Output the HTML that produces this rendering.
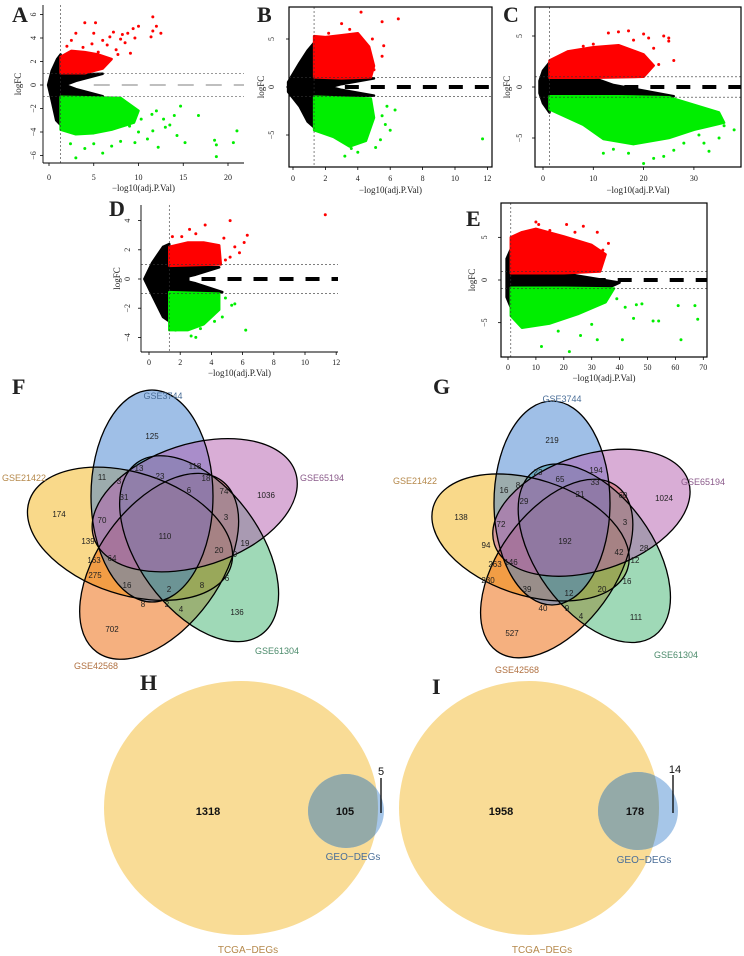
<!DOCTYPE html>
<html><head><meta charset="utf-8">
<style>
html,body{margin:0;padding:0;background:#fff;}
svg{display:block;}
.tk{font-family:"Liberation Serif",serif;font-size:8px;fill:#222;}
.lb{font-family:"Liberation Serif",serif;font-size:9px;fill:#222;}
.pl{font-family:"Liberation Serif",serif;font-size:22px;font-weight:bold;fill:#222;}
.vn{font-family:"Liberation Sans",sans-serif;font-size:8px;fill:#222;text-anchor:middle;dominant-baseline:middle;}
.vl{font-family:"Liberation Sans",sans-serif;font-size:9px;text-anchor:middle;}
.hn{font-family:"Liberation Sans",sans-serif;font-size:11px;font-weight:bold;fill:#111;text-anchor:middle;dominant-baseline:middle;}
</style></head>
<body>
<svg id="fig" width="744" height="956" viewBox="0 0 744 956" xmlns="http://www.w3.org/2000/svg">
<g id="volcanoes"></g>

<!-- Venn F -->
<g id="venn-f">
  <text class="pl" x="12" y="394">F</text>
  <g transform="translate(167,530)">
    <ellipse cx="-15" cy="-34" rx="61" ry="106" transform="rotate(288)" fill="#f3b315" fill-opacity="0.5" stroke="none"/>
    <ellipse cx="-15" cy="-34" rx="61" ry="106" transform="rotate(216)" fill="#eb6200" fill-opacity="0.5" stroke="none"/>
    <ellipse cx="-15" cy="-34" rx="61" ry="106" transform="rotate(144)" fill="#3fb36f" fill-opacity="0.5" stroke="none"/>
    <ellipse cx="-15" cy="-34" rx="61" ry="106" fill="#3f7fcf" fill-opacity="0.5" stroke="none"/>
    <ellipse cx="-15" cy="-34" rx="61" ry="106" transform="rotate(72)" fill="#b35cad" fill-opacity="0.5" stroke="none"/>
    <g fill="none" stroke="#000" stroke-width="1.3">
      <ellipse cx="-15" cy="-34" rx="61" ry="106"/>
      <ellipse cx="-15" cy="-34" rx="61" ry="106" transform="rotate(72)"/>
      <ellipse cx="-15" cy="-34" rx="61" ry="106" transform="rotate(144)"/>
      <ellipse cx="-15" cy="-34" rx="61" ry="106" transform="rotate(216)"/>
      <ellipse cx="-15" cy="-34" rx="61" ry="106" transform="rotate(288)"/>
    </g>
  </g>
  <g id="venn-f-nums"></g>
  <text class="vl" x="163" y="399" fill="#4a6e98">GSE3744</text>
  <text class="vl" x="24" y="481" fill="#b5884a">GSE21422</text>
  <text class="vl" x="322" y="481" fill="#8a5a8a">GSE65194</text>
  <text class="vl" x="277" y="654" fill="#4a8a6a">GSE61304</text>
  <text class="vl" x="96" y="669" fill="#b07040">GSE42568</text>
</g>

<!-- Venn G -->
<g id="venn-g">
  <text class="pl" x="433" y="394">G</text>
  <g transform="translate(565,535)">
    <ellipse cx="-13" cy="-32" rx="58" ry="102" transform="rotate(288)" fill="#f3b315" fill-opacity="0.5"/>
    <ellipse cx="-13" cy="-32" rx="58" ry="102" transform="rotate(216)" fill="#eb6200" fill-opacity="0.5"/>
    <ellipse cx="-13" cy="-32" rx="58" ry="102" transform="rotate(144)" fill="#3fb36f" fill-opacity="0.5"/>
    <ellipse cx="-13" cy="-32" rx="58" ry="102" fill="#3f7fcf" fill-opacity="0.5"/>
    <ellipse cx="-13" cy="-32" rx="58" ry="102" transform="rotate(72)" fill="#b35cad" fill-opacity="0.5"/>
    <g fill="none" stroke="#000" stroke-width="1.3">
      <ellipse cx="-13" cy="-32" rx="58" ry="102"/>
      <ellipse cx="-13" cy="-32" rx="58" ry="102" transform="rotate(72)"/>
      <ellipse cx="-13" cy="-32" rx="58" ry="102" transform="rotate(144)"/>
      <ellipse cx="-13" cy="-32" rx="58" ry="102" transform="rotate(216)"/>
      <ellipse cx="-13" cy="-32" rx="58" ry="102" transform="rotate(288)"/>
    </g>
  </g>
  <g id="venn-g-nums"></g>
  <text class="vl" x="562" y="402" fill="#4a6e98">GSE3744</text>
  <text class="vl" x="415" y="484" fill="#b5884a">GSE21422</text>
  <text class="vl" x="703" y="485" fill="#8a5a8a">GSE65194</text>
  <text class="vl" x="676" y="658" fill="#4a8a6a">GSE61304</text>
  <text class="vl" x="517" y="673" fill="#b07040">GSE42568</text>
</g>

<!-- H -->
<defs>
  <clipPath id="clipH"><ellipse cx="241" cy="808" rx="137" ry="127"/></clipPath>
  <clipPath id="clipI"><ellipse cx="529" cy="808" rx="130" ry="127"/></clipPath>
</defs>
<g id="venn-h">
  <text class="pl" x="140" y="690">H</text>
  <ellipse cx="241" cy="808" rx="137" ry="127" fill="#f9dc96"/>
  <ellipse cx="346" cy="811" rx="38" ry="37" fill="#a6c6e8"/>
  <ellipse cx="346" cy="811" rx="38" ry="37" fill="#94aaa8" clip-path="url(#clipH)"/>
  <text class="hn" x="208" y="812">1318</text>
  <text class="hn" x="345" y="812">105</text>
  <text class="hn" x="381" y="772" style="font-weight:normal">5</text>
  <line x1="381" y1="778" x2="381" y2="813" stroke="#000" stroke-width="1.3"/>
  <text class="vl" x="353" y="860" fill="#4a6e98" style="font-size:10px">GEO−DEGs</text>
  <text class="vl" x="248" y="953" fill="#b5884a" style="font-size:10px">TCGA−DEGs</text>
</g>
<g id="venn-i">
  <text class="pl" x="432" y="694">I</text>
  <ellipse cx="529" cy="808" rx="130" ry="127" fill="#f9dc96"/>
  <ellipse cx="638" cy="811" rx="40" ry="39" fill="#a6c6e8"/>
  <ellipse cx="638" cy="811" rx="40" ry="39" fill="#94aaa8" clip-path="url(#clipI)"/>
  <text class="hn" x="501" y="812">1958</text>
  <text class="hn" x="635" y="812">178</text>
  <text class="hn" x="675" y="770" style="font-weight:normal">14</text>
  <line x1="673" y1="775" x2="673" y2="813" stroke="#000" stroke-width="1.3"/>
  <text class="vl" x="644" y="863" fill="#4a6e98" style="font-size:10px">GEO−DEGs</text>
  <text class="vl" x="542" y="953" fill="#b5884a" style="font-size:10px">TCGA−DEGs</text>
</g>
</svg>

<script>
// ---------- Venn counts ----------
const fCounts=[[125,152,437],[13,139,469],[118,195,467],[23,160,477],[18,206,479],[3,119,482],[11,102,478],[31,124,498],[6,189,491],[74,224,492],[1036,266,496],[174,59,515],[70,102,521],[3,226,518],[110,165,537],[139,88,542],[20,219,551],[19,245,544],[9,235,555],[163,94,561],[64,112,559],[275,95,576],[16,127,586],[2,169,590],[8,202,586],[6,227,579],[8,143,605],[2,167,605],[4,181,610],[136,237,613],[702,112,630]];
const gCounts=[[219,552,441],[23,538,473],[194,596,471],[65,560,480],[33,595,483],[16,504,491],[8,518,486],[21,580,495],[60,623,496],[1024,664,499],[138,461,518],[29,524,502],[72,501,525],[3,625,523],[192,565,542],[94,486,546],[42,619,553],[28,644,549],[12,635,561],[263,495,565],[146,511,563],[230,488,581],[39,527,590],[12,569,594],[20,602,590],[16,627,582],[40,543,609],[9,567,609],[4,581,617],[111,636,618],[527,512,634]];
const NS='http://www.w3.org/2000/svg';
function mk(tag,attrs,parent){const e=document.createElementNS(NS,tag);for(const k in attrs)e.setAttribute(k,attrs[k]);parent.appendChild(e);return e;}
[['venn-f-nums',fCounts],['venn-g-nums',gCounts]].forEach(([id,arr])=>{
  const g=document.getElementById(id);
  arr.forEach(c=>{const t=mk('text',{class:'vn',x:c[1],y:c[2]},g);t.textContent=c[0];
    
    });
});

// ---------- Volcano data (data coordinates: -log10(adj.P), logFC) ----------
const aBlack=[[-0.1,0],[0.3,1.2],[0.9,2.2],[1.3,2.6],[1.3,1],[3.5,0.9],[6,0.95],[3,0.35],[1.8,0],[3,-0.35],[6,-0.95],[1.3,-1],[1.3,-3.4],[0.8,-3.0],[0.3,-1.3]];
const aRedCloud=[[1.3,1],[1.3,2.4],[2.5,2.9],[4,2.8],[5.5,2.6],[7,2.2],[6,1.4],[4,1.0]];
const aGreenCloud=[[1.3,-1],[1.3,-3.8],[3,-4.2],[5,-4.1],[7,-3.8],[9.5,-3.2],[10,-2.2],[8,-1.1]];
const aRedPts=[[11.6,5.8],[12,5.0],[11.6,4.6],[4.0,5.3],[5.2,5.3],[10.0,5.0],[9.4,4.8],[12.5,4.4],[11.4,4.1],[8.2,4.3],[7.2,4.5],[6.5,3.4],[9.1,2.7],[8.5,3.6],[9.6,4.0],[6.0,3.8],[7.5,3.0],[5.5,2.8],[4.8,3.5],[3.8,3.2],[3.0,4.4],[2.5,3.8],[8.0,3.9],[6.8,4.1],[5.0,4.4],[7.7,2.6],[8.8,4.4],[2.0,3.3]];
const aGreenPts=[[20.6,-4.9],[21,-3.9],[18.5,-4.7],[18.7,-5.1],[18.7,-6.1],[16.7,-2.6],[15.2,-4.9],[14.7,-1.8],[14,-2.6],[12.2,-5.3],[11.5,-2.5],[11.6,-3.9],[10.3,-2.9],[13,-3.6],[14.3,-4.3],[3,-6.2],[6,-5.8],[4,-5.4],[8,-4.8],[10,-4.0],[7.5,-1.1],[12,-2.2],[9,-3.5],[11,-4.6],[13.5,-3.4],[9.6,-4.9],[7,-5.2],[5,-5.0],[2.4,-5.0],[12.8,-2.9]];

const bBlack=[[-0.3,0.5],[0.4,2.5],[0.9,3.8],[1.3,4.6],[1.3,1],[5,0.9],[3,0.3],[2.3,0],[3,-0.3],[5,-0.9],[1.3,-1],[1.3,-4.2],[0.9,-3.6],[0.4,-2],[-0.3,-0.5]];
const bRedCloud=[[1.3,1],[1.3,5.3],[2,5.2],[3,5.4],[4,5.6],[4.7,4.2],[5,2.2],[4.8,1],[3,0.9]];
const bGreenCloud=[[1.3,-1],[1.3,-4.5],[2.5,-5.2],[3.5,-6.2],[4.5,-5.6],[5,-3.2],[4.8,-1.2]];
const bRedPts=[[4.2,7.8],[6.5,7.1],[5.5,6.8],[3.0,6.6],[5.0,1.8],[5.6,4.3],[5.5,3.2],[2.2,5.6],[3.5,6.0],[4.9,5.0]];
const bGreenPts=[[11.7,-5.4],[6.0,-4.5],[5.5,-3],[5.8,-2.0],[3.2,-7.2],[4.0,-6.8],[5.4,-5.5],[2.4,-4.4],[6.3,-2.4],[5.1,-6.3],[3.6,-6.4],[5.7,-3.9]];

const cBlack=[[-0.7,0.6],[0,1.6],[1.3,2.4],[1.3,0.9],[10,0.9],[14,0.2],[26,-0.9],[1.3,-0.9],[1.3,-2.5],[0,-1.6],[-0.7,-0.6]];
const cRedCloud=[[1.3,0.9],[1.3,2.6],[5,3.5],[10,3.9],[15,4.1],[20,3.2],[22,2.1],[20,1],[10,0.9]];
const cGreenCloud=[[1.3,-0.9],[1.3,-2.2],[8,-3.7],[12,-5.1],[18,-5.6],[25,-5],[30,-4.2],[36,-3.5],[35,-2.5],[25,-1],[15,-0.9]];
const cRedPts=[[24,5],[25,4.5],[25,4.8],[26,2.6],[15,5.4],[17,5.5],[20,5.2],[21,4.8],[10,4.2],[13,5.3],[8,4.0],[22,3.8],[23,2.2],[18,4.6]];
const cGreenPts=[[20,-7.5],[22,-7],[17,-6.5],[12,-6.5],[38,-4.2],[32,-5.5],[33,-6.3],[28,-5.5],[35,-5],[36,-3.8],[30,-3.0],[14,-6.1],[26,-6.2],[24,-6.8],[31,-4.7]];

const dBlack=[[-0.3,0],[0.2,1.1],[0.9,2.2],[1.3,2.4],[1.3,0.9],[4.5,0.8],[3,0.3],[1.8,0],[3,-0.3],[4.7,-0.9],[1.3,-0.9],[1.3,-2.9],[0.9,-2.6],[0.2,-1.1]];
const dRedCloud=[[1.3,0.9],[1.3,2.2],[2.5,2.5],[3.5,2.5],[4.5,2.3],[4.6,1.0]];
const dGreenCloud=[[1.3,-0.9],[1.3,-3.5],[2.5,-3.5],[3.5,-3.1],[4.5,-2.1],[4.5,-1]];
const dRedPts=[[11.3,4.4],[5.2,4.0],[3.6,3.7],[2.6,3.4],[6.3,3.0],[6.1,2.5],[5.5,2.2],[5.8,1.8],[4.9,1.3],[3.0,3.1],[2.1,2.9],[4.8,2.8],[5.2,1.5],[1.5,2.9]];
const dGreenPts=[[6.2,-3.5],[2.7,-3.9],[3.0,-4.0],[5.5,-1.7],[5.3,-1.8],[4.9,-1.3],[4.7,-2.6],[2.0,-3.2],[3.3,-3.4],[4.2,-2.9],[1.7,-3.5]];

const eBlack=[[-0.5,2.5],[1,3.6],[1,0.8],[20,0.8],[25,0.5],[40,-0.3],[36,-0.9],[1,-0.9],[1,-3.2],[-0.5,-2]];
const eRedCloud=[[1,0.8],[1,5],[5,5.6],[10,6],[20,5.1],[30,4.1],[35,3],[33,1],[20,0.8]];
const eGreenCloud=[[1,-0.9],[1,-4.2],[5,-5.6],[15,-5.1],[25,-4],[35,-2.6],[38,-1],[20,-0.9]];
const eRedPts=[[10,6.8],[21,6.5],[27,6.3],[36,4.3],[34,3.5],[32,5.6],[15,5.8],[11,6.5],[24,5.6]];
const eGreenPts=[[12,-7.8],[22,-8.4],[32,-7],[41,-7],[62,-7],[68,-4.6],[67,-3],[61,-3],[52,-4.8],[54,-4.8],[45,-4.5],[48,-2.8],[26,-6.5],[18,-6],[42,-3.2],[39,-2.2],[30,-5.2],[46,-2.9]];

const aXTicks=[0,5,10,15,20], aYTicks=[-6,-4,-2,0,2,4,6];
const bXTicks=[0,2,4,6,8,10,12], bYTicks=[-5,0,5];
const cXTicks=[0,10,20,30], cYTicks=[-5,0,5];
const dXTicks=[0,2,4,6,8,10,12], dYTicks=[-4,-2,0,2,4];
const eXTicks=[0,10,20,30,40,50,60,70], eYTicks=[-5,0,5];

// ---------- layout (pixel geometry) ----------
const panels=[
 {id:'a',L:'A',lx:12,ly:22,x0:49,sx:8.95,y0:85,sy:11.75,left:43,right:244,top:5,bottom:163,box:false,thin:true,dash0:5,cut:1.3,
  black:aBlack,red:aRedCloud,green:aGreenCloud,rp:aRedPts,gp:aGreenPts,xt:aXTicks,yt:aYTicks,ytx:36,ylx:21,xty:180,xly:191},
 {id:'b',L:'B',lx:257,ly:22,x0:293,sx:16.2,y0:87,sy:9.6,left:289,right:492,top:7,bottom:167,box:true,thin:false,dash0:3.2,cut:1.3,
  black:bBlack,red:bRedCloud,green:bGreenCloud,rp:bRedPts,gp:bGreenPts,xt:bXTicks,yt:bYTicks,ytx:274,ylx:264,xty:181,xly:193},
 {id:'c',L:'C',lx:503,ly:22,x0:543,sx:5.03,y0:87,sy:10.2,left:535,right:741,top:7,bottom:167,box:true,thin:false,dash0:11,cut:1.3,
  black:cBlack,red:cRedCloud,green:cGreenCloud,rp:cRedPts,gp:cGreenPts,xt:cXTicks,yt:cYTicks,ytx:522,ylx:510,xty:181,xly:193},
 {id:'d',L:'D',lx:109,ly:216,x0:149,sx:15.6,y0:279,sy:14.6,left:141,right:338,top:205,bottom:352,box:false,thin:false,dash0:1.7,cut:1.3,
  black:dBlack,red:dRedCloud,green:dGreenCloud,rp:dRedPts,gp:dGreenPts,xt:dXTicks,yt:dYTicks,ytx:130,ylx:120,xty:365,xly:376},
 {id:'e',L:'E',lx:466,ly:226,x0:508,sx:2.79,y0:280,sy:8.53,left:501,right:707,top:203,bottom:357,box:true,thin:false,dash0:30,cut:1,
  black:eBlack,red:eRedCloud,green:eGreenCloud,rp:eRedPts,gp:eGreenPts,xt:eXTicks,yt:eYTicks,ytx:487,ylx:475,xty:370,xly:381}
];

const root=document.getElementById('volcanoes');
panels.forEach(p=>{
  const X=v=>p.x0+v*p.sx, Y=v=>p.y0-v*p.sy;
  const g=mk('g',{},root);
  
  
  const lab=mk('text',{class:'pl',x:p.lx,y:p.ly},g); lab.textContent=p.L;
  
  
  const poly=(pts,fill,name)=>{const e=mk('polygon',{points:pts.map(q=>X(q[0]).toFixed(1)+','+Y(q[1]).toFixed(1)).join(' '),fill:fill,stroke:fill,'stroke-width':2.5,'stroke-linejoin':'round'},g);
    
    };
  if(p.thin){
    const l=mk('line',{x1:X(p.dash0),x2:p.right,y1:Y(0),y2:Y(0),stroke:'#555','stroke-width':0.8,'stroke-dasharray':'16 12'},g);
    
    
  }
  poly(p.black,'#000','nonsignificant-cloud');
  poly(p.red,'#ff0000','upregulated-cloud');
  poly(p.green,'#00ee00','downregulated-cloud');
  p.rp.forEach(q=>{const c=mk('circle',{cx:X(q[0]),cy:Y(q[1]),r:1.5,fill:'#ff0000'},g);
    
    });
  p.gp.forEach(q=>{const c=mk('circle',{cx:X(q[0]),cy:Y(q[1]),r:1.5,fill:'#00ee00'},g);
    
    });
  if(!p.thin){
    const l=mk('line',{x1:X(p.dash0),x2:p.right,y1:Y(0),y2:Y(0),stroke:'#000','stroke-width':4,'stroke-dasharray':'14 12'},g);
    
    
  }
  [1,-1].forEach(v=>{const l=mk('line',{x1:p.left,x2:p.right,y1:Y(v),y2:Y(v),stroke:'#333','stroke-width':0.6,'stroke-dasharray':'2 2'},g);
    
    });
  const vl=mk('line',{x1:X(p.cut),x2:X(p.cut),y1:p.top,y2:p.bottom,stroke:'#333','stroke-width':0.6,'stroke-dasharray':'2 2'},g);
  
  
  if(p.box){
    const r=mk('rect',{x:p.left,y:p.top,width:p.right-p.left,height:p.bottom-p.top,fill:'none',stroke:'#000','stroke-width':1.2},g);
    
    
  } else {
    mk('line',{x1:p.left,x2:p.left,y1:p.top,y2:p.bottom,stroke:'#000','stroke-width':0.9},g);
    mk('line',{x1:p.left,x2:p.right,y1:p.bottom,y2:p.bottom,stroke:'#000','stroke-width':0.9},g);
  }
  p.xt.forEach(v=>{mk('line',{x1:X(v),x2:X(v),y1:p.bottom,y2:p.bottom+3,stroke:'#000','stroke-width':0.8},g);
    const t=mk('text',{class:'tk',x:X(v),y:p.xty,'text-anchor':'middle'},g);t.textContent=v;
    
    });
  p.yt.forEach(v=>{mk('line',{x1:p.left-3,x2:p.left,y1:Y(v),y2:Y(v),stroke:'#000','stroke-width':0.8},g);
    const t=mk('text',{class:'tk',x:p.ytx,y:Y(v),'text-anchor':'middle',transform:'rotate(-90 '+p.ytx+' '+Y(v)+')'},g);t.textContent=String(v).replace('-','−');
    
    });
  const xl=mk('text',{class:'lb',x:(p.left+p.right)/2,y:p.xly,'text-anchor':'middle'},g);xl.textContent='−log10(adj.P.Val)';
  
  
  const ym=(p.top+p.bottom)/2;
  const yl=mk('text',{class:'lb',x:p.ylx,y:ym,'text-anchor':'middle',transform:'rotate(-90 '+p.ylx+' '+ym+')'},g);yl.textContent='logFC';
  
  
});
</script>
</body></html>
